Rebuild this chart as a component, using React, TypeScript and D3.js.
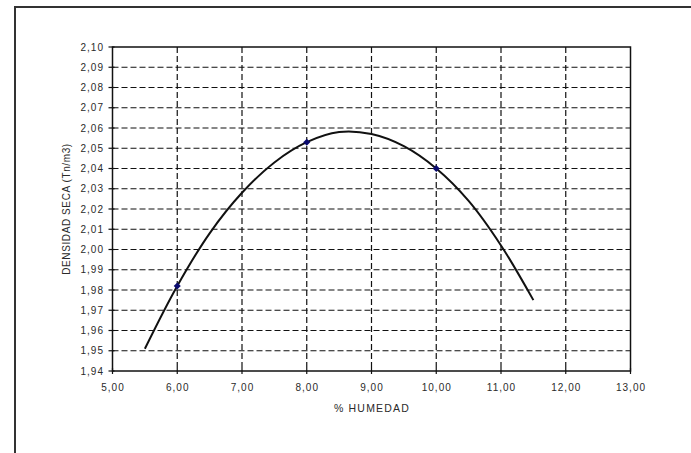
import React from "react";
import * as d3 from "d3";

const xTicks = [5, 6, 7, 8, 9, 10, 11, 12, 13];
const yTicks = [1.94, 1.95, 1.96, 1.97, 1.98, 1.99, 2.0, 2.01, 2.02, 2.03, 2.04, 2.05, 2.06, 2.07, 2.08, 2.09, 2.1];

const pointX = [6, 8, 10];
const pointY = [1.982, 2.053, 2.04];

const curveX = [5.5, 6.0, 6.5, 7.0, 7.5, 8.0, 8.5, 9.0, 9.5, 10.0, 10.5, 11.0, 11.5];
const curveY = [1.951, 1.982, 2.008, 2.028, 2.043, 2.053, 2.058, 2.057, 2.051, 2.04, 2.024, 2.002, 1.975];

const W = 691;
const H = 453;
const L = 112.5;
const R = 630.5;
const T = 47;
const B = 371;

const fmt = (v: number) => v.toFixed(2).replace(".", ",");

export default function App() {
  const x = d3.scaleLinear().domain([5, 13]).range([L, R]);
  const y = d3.scaleLinear().domain([1.94, 2.1]).range([B, T]);
  const line = d3
    .line<number>()
    .x((_, i) => x(curveX[i]))
    .y((d) => y(d))
    .curve(d3.curveCatmullRom.alpha(0.5));

  const font = "'Liberation Sans', Arial, sans-serif";

  return (
    <svg width={W} height={H} style={{ position: "absolute", left: 0, top: 0, background: "#fff" }}>
      <rect x={15} y={7} width={700} height={500} fill="#fff" stroke="#333" strokeWidth={2} />
      {/* grid */}
      {yTicks.slice(1, -1).map((t) => (
        <line key={"gy" + t} x1={L} x2={R} y1={y(t)} y2={y(t)} stroke="#111" strokeWidth={1.2} strokeDasharray="6,3" />
      ))}
      {xTicks.slice(1, -1).map((t) => (
        <line key={"gx" + t} x1={x(t)} x2={x(t)} y1={T} y2={B} stroke="#111" strokeWidth={1.2} strokeDasharray="6,3" />
      ))}
      {/* plot frame */}
      <rect x={L} y={T} width={R - L} height={B - T} fill="none" stroke="#111" strokeWidth={1.5} />
      {/* y ticks */}
      {yTicks.map((t) => (
        <g key={"yt" + t}>
          <line x1={L - 4} x2={L + 2} y1={y(t)} y2={y(t)} stroke="#111" strokeWidth={1.2} />
          <text x={L - 8.5} y={y(t)} dy="0.35em" textAnchor="end" fontFamily={font} fontSize={10} letterSpacing={1} fill="#2a2a2a">
            {fmt(t)}
          </text>
        </g>
      ))}
      {/* x ticks */}
      {xTicks.map((t) => (
        <g key={"xt" + t}>
          <line x1={x(t)} x2={x(t)} y1={B - 3} y2={B + 3} stroke="#111" strokeWidth={1.2} />
          <text x={x(t) + 0.5} y={B + 16} dy="0.35em" textAnchor="middle" fontFamily={font} fontSize={10} letterSpacing={1} fill="#2a2a2a">
            {fmt(t)}
          </text>
        </g>
      ))}
      <text x={(L + R) / 2 + 0.5} y={408} dy="0.35em" textAnchor="middle" fontFamily={font} fontSize={10.5} letterSpacing={1.2} fill="#2a2a2a">
        % HUMEDAD
      </text>
      <text
        transform={`translate(66,${(T + B) / 2}) rotate(-90)`}
        textAnchor="middle"
        dy="0.35em"
        fontFamily={font}
        fontSize={10}
        letterSpacing={0.6}
        fill="#2a2a2a"
      >
        DENSIDAD SECA (Tn/m3)
      </text>
      {/* curve */}
      <path d={line(curveY) || ""} fill="none" stroke="#111" strokeWidth={2} />
      {/* points */}
      {pointX.map((px, i) => (
        <rect
          key={"p" + i}
          x={-2.5}
          y={-2.5}
          width={5}
          height={5}
          fill="#0a0a6e"
          transform={`translate(${x(px)},${y(pointY[i])}) rotate(45)`}
        />
      ))}
    </svg>
  );
}
